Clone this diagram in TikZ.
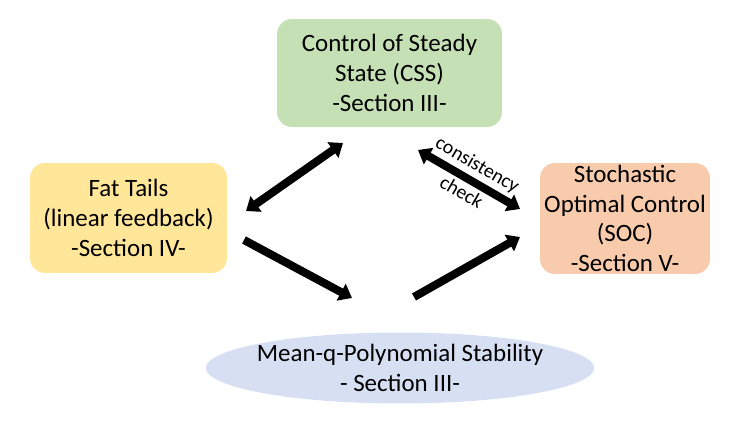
\documentclass[tikz,border=0pt]{standalone}
\usepackage{fontspec}
\setmainfont{Carlito}
\usepackage{xcolor}
\usepackage{tikz}
\usetikzlibrary{arrows.meta,shapes.geometric}
\definecolor{cssgreen}{HTML}{C5E0B4}
\definecolor{fatyellow}{HTML}{FFE699}
\definecolor{socorange}{HTML}{F8CBAD}
\definecolor{mqpblue}{HTML}{D6E0F2}
\tikzset{box/.style={rounded corners=0.3cm, align=center, inner sep=0pt,
  font=\fontsize{14.2}{16.9}\selectfont},
  big arrow/.style={line width=4.6pt, >={Triangle[length=7pt,width=10.5pt]}},
  small label/.style={sloped, inner sep=2pt, font=\fontsize{11.3}{13}\selectfont}}

\begin{document}
\begin{tikzpicture}[x=0.02cm,y=-0.02cm]
  \useasboundingbox (0,0) rectangle (747,421);
  \node[box, fill=cssgreen, minimum width=4.5cm, minimum height=2.16cm] (css) at (389.5,73)
    {Control of Steady\\State (CSS)\\-Section III-};
  \node[box, fill=fatyellow, minimum width=3.94cm, minimum height=2.2cm] (fat) at (128.5,218)
    {Fat Tails\\(linear feedback)\\-Section IV-};
  \node[box, fill=socorange, minimum width=3.4cm, minimum height=2.22cm] (soc) at (625,218.5)
    {Stochastic\\Optimal Control\\(SOC)\\-Section V-};
  \node[box, ellipse, fill=mqpblue, inner sep=-3.4pt, minimum width=7.72cm, minimum height=1.42cm] (mqp) at (400,368)
    {Mean-q-Polynomial Stability\\- Section III-};
  \coordinate (a1) at (246,211);
  \coordinate (a2) at (343,143);
  \coordinate (b1) at (418,150);
  \coordinate (b2) at (520,209);
  \coordinate (c1) at (244,240);
  \coordinate (c2) at (352,298);
  \coordinate (d1) at (414,297);
  \coordinate (d2) at (520,237);
  \draw[big arrow, <->] (a1) -- (a2);
  \draw[big arrow, <->] (b1) -- node[small label, above] {consistency}
    node[small label, below] {check} (b2);
  \draw[big arrow, ->] (c1) -- (c2);
  \draw[big arrow, ->] (d1) -- (d2);
\end{tikzpicture}
\end{document}
